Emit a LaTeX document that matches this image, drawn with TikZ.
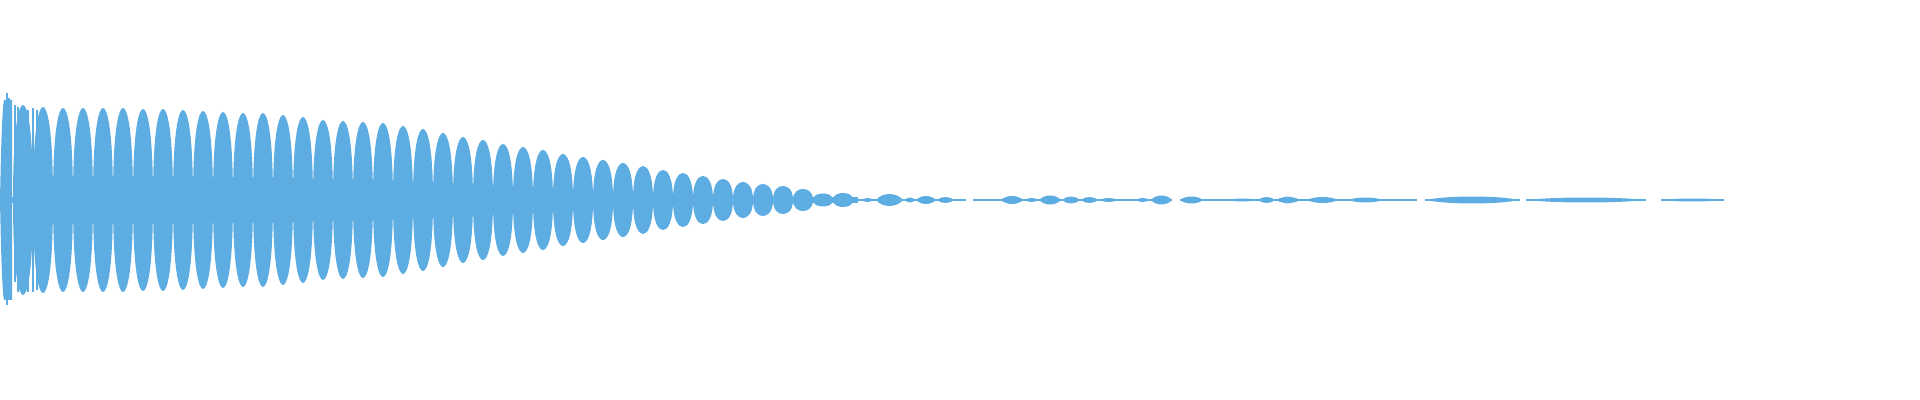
\documentclass[tikz,border=0pt]{standalone}
\begin{document}
\begin{tikzpicture}[x=0.5pt,y=-0.5pt]
\definecolor{wave}{RGB}{93,172,226}
\useasboundingbox (0,0) rectangle (1920,400);
\tikzset{wavefill/.style={fill=wave}}
% thin centre band under main lobes
\fill[wavefill] (0,197) rectangle (858,203);
% early spiky region
\fill[wavefill] (0,200) .. controls (1,150) and (2,110) .. (4,100) -- (12,100) -- (12,300) -- (4,300) .. controls (2,290) and (1,250) .. cycle;
\foreach \x/\t/\b in {7/93/305,9/98/300,15/105/282,18/107/292,28/110/292,33/108/292,37/110/290,42/108/292}
  \fill[wavefill] (\x-1,\t) rectangle (\x+1,\b);
% main lobes
\foreach \c/\a in {23/95,43/93,63/92,83/92,103/92,123/92,143/91,163/91,183/90,203/89,223/88,243/87,263/87,283/85,303/83,323/80,343/79,363/78,383/77,403/74,423/71,443/67,463/63,483/60,503/56,523/53,543/50,563/46,583/43,603/40,623/37,643/34,663/30,683/27,703/24,723/21,743/18,763/16,783/14,803/11,823/6.5,843/7}
  \fill[wavefill] (\c-10,200) .. controls (\c-10,200-0.8*\a) and (\c-4,200-\a) .. (\c,200-\a)
     .. controls (\c+4,200-\a) and (\c+10,200-0.8*\a) .. (\c+10,200)
     .. controls (\c+10,200+0.8*\a) and (\c+4,200+\a) .. (\c,200+\a)
     .. controls (\c-4,200+\a) and (\c-10,200+0.8*\a) .. cycle;
% tail thin lines
\foreach \s/\e in {853/966,973/1172,1180/1417,1425/1520,1526/1646,1661/1724}
  \fill[wavefill] (\s,199.2) rectangle (\e,200.8);
% tail blobs
\foreach \s/\e/\a in {862/873/2,876/903/6,905/915/2.5,916/936/4,937/954/3,957/966/1.2,1001/1023/4,1025/1038/2,1039/1061/4.5,1062/1080/3.5,1081/1098/3,1100/1117/2,1136/1149/2,1151/1172/4.5,1180/1203/3.5,1227/1258/1.5,1258/1275/3,1276/1300/3,1280/1295/3.5,1307/1338/3,1348/1383/2.5,1425/1520/3.5,1526/1646/2.5,1661/1724/1.5}
  \fill[wavefill] (\s,200) .. controls ({\s+0.25*(\e-\s)},200-1.33*\a) and ({\e-0.25*(\e-\s)},200-1.33*\a) .. (\e,200)
     .. controls ({\e-0.25*(\e-\s)},200+1.33*\a) and ({\s+0.25*(\e-\s)},200+1.33*\a) .. cycle;
\end{tikzpicture}
\end{document}
